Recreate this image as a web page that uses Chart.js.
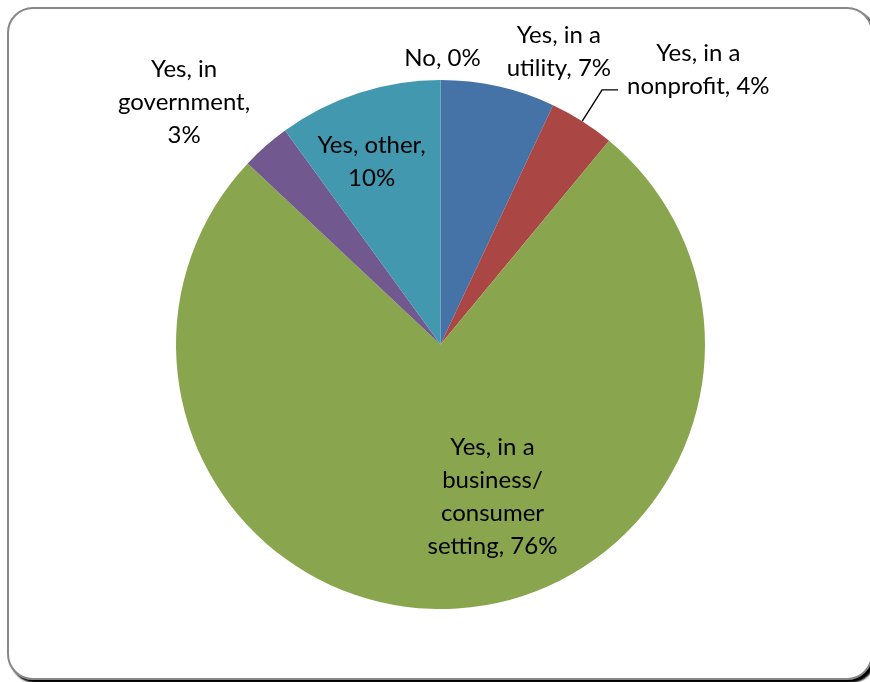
<!DOCTYPE html>
<html>
<head>
<meta charset="utf-8">
<script src="https://cdn.jsdelivr.net/npm/chart.js@4.4.1/dist/chart.umd.min.js"></script>
<style>
  html, body { margin: 0; padding: 0; background: #fff; overflow: hidden; }
  body { width: 870px; height: 682px; position: relative; }
  #frame {
    position: absolute; left: 7px; top: 7px; width: 866px; height: 673px;
    box-sizing: border-box; border: 2px solid #878787; border-radius: 26px;
    box-shadow: 3px 3px 2px #000; background: #fff;
  }
  #wrap { position: absolute; left: 0; top: 0; width: 870px; height: 682px; }
</style>
</head>
<body>
<div id="frame"></div>
<div id="wrap"><canvas id="pie"></canvas></div>
<script>
// Survey answers, one slice each, clockwise from 12 o'clock
const categoryLines = [
  ['No'],
  ['Yes, in a', 'utility'],
  ['Yes, in a', 'nonprofit'],
  ['Yes, in a', 'business/', 'consumer', 'setting'],
  ['Yes, in', 'government'],
  ['Yes, other']
];
const percentValues = [0, 7, 4, 76, 3, 10];
const sliceColors = ['#4572A7', '#4572A7', '#AA4643', '#89A54E', '#71588F', '#4198AF'];

// Label layout: radial anchor (fraction of radius along the slice middle),
// a small pixel nudge, whether the percentage sits on its own line,
// and whether a leader line joins label and slice.
const labelLayout = [
  { f: 1.08, dx: 2,   dy: -1,  ownLine: false, leader: false },
  { f: 1.15, dx: 52,  dy: 4,   ownLine: false, leader: false },
  { f: 1.14, dx: 25,  dy: -20, ownLine: false, leader: true, align: 'left' },
  { f: 0.60, dx: 42,  dy: -6,  ownLine: false, leader: false },
  { f: 1.30, dx: -29, dy: 16,  ownLine: true,  leader: false },
  { f: 0.72, dx: -10, dy: -2,  ownLine: true,  leader: false }
];

function labelFor(i) {
  const lines = categoryLines[i].slice();
  const pct = percentValues[i] + '%';
  lines[lines.length - 1] += ',';
  if (labelLayout[i].ownLine) lines.push(pct);
  else lines[lines.length - 1] += ' ' + pct;
  return lines;
}

const FONT = '24px Lato, "Open Sans", sans-serif';
const LINE_H = 33;

const sliceLabels = {
  id: 'sliceLabels',
  afterDatasetsDraw(chart) {
    const ctx = chart.ctx;
    const arcs = chart.getDatasetMeta(0).data;
    ctx.save();
    ctx.font = FONT;
    ctx.fillStyle = '#000';
    ctx.textBaseline = 'middle';
    arcs.forEach((arc, i) => {
      const p = arc.getProps(['x', 'y', 'startAngle', 'endAngle', 'outerRadius'], true);
      const mid = (p.startAngle + p.endAngle) / 2;
      const cx = Math.cos(mid), cy = Math.sin(mid);
      const L = labelLayout[i];
      const ax = p.x + cx * p.outerRadius * L.f;
      const ay = p.y + cy * p.outerRadius * L.f;
      const lines = labelFor(i);
      if (L.leader) {
        const ex = p.x + cx * p.outerRadius;
        const ey = p.y + cy * p.outerRadius;
        ctx.strokeStyle = '#000';
        ctx.lineWidth = 1.4;
        ctx.beginPath();
        ctx.moveTo(ex, ey);
        ctx.lineTo(ax, ay);
        ctx.lineTo(ax + 16, ay);
        ctx.stroke();
      }
      const bx = ax + L.dx;
      const by = ay + L.dy;
      let widest = 0;
      lines.forEach(t => { widest = Math.max(widest, ctx.measureText(t).width); });
      const top = by - (lines.length - 1) * LINE_H / 2;
      lines.forEach((t, k) => {
        let x = bx;
        ctx.textAlign = 'center';
        if (L.align === 'left') x = bx + widest / 2;
        ctx.fillText(t, x, top + k * LINE_H);
      });
    });
    ctx.restore();
  }
};

new Chart(document.getElementById('pie'), {
  type: 'pie',
  data: {
    labels: categoryLines.map(l => l.join(' ')),
    datasets: [{
      data: percentValues,
      backgroundColor: sliceColors,
      borderWidth: 0
    }]
  },
  options: {
    responsive: true,
    maintainAspectRatio: false,
    animation: false,
    layout: { padding: { left: 176, right: 165, top: 80, bottom: 73 } },
    plugins: {
      legend: { display: false },
      tooltip: { enabled: false }
    }
  },
  plugins: [sliceLabels]
});
</script>
</body>
</html>
